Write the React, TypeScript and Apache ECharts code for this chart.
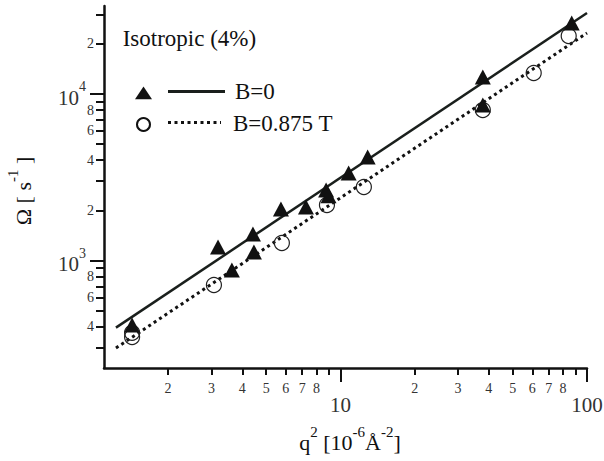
import React, { useEffect, useRef } from 'react';
import * as echarts from 'echarts';

// ---- data ----
const triX = [1.43, 3.19, 3.63, 4.42, 4.46, 5.74, 7.25, 8.75, 8.95, 10.8, 12.9, 37.8, 37.8, 86.7];
const triY = [410, 1205, 877, 1443, 1125, 2039, 2096, 2650, 2450, 3354, 4183, 12650, 8590, 26700];

const circX = [1.43, 1.43, 3.07, 5.79, 8.82, 12.45, 37.8, 60.8, 84.3];
const circY = [368, 347, 712, 1274, 2155, 2763, 8010, 13370, 22300];

const fitX = [1.23, 100];
const fitSolidY = [395, 30660];
const fitDottedY = [298, 23250];

const xRange = [1.1, 100];
const yRange = [226, 33770];

const xMinorTicks = [2, 3, 4, 5, 6, 7, 8, 9, 20, 30, 40, 50, 60, 70, 80, 90];
const xMinorLabels = [2, 3, 4, 5, 6, 7, 8, 20, 30, 40, 50, 60, 70, 80];
const xMajorTicks = [10, 100];
const yMinorTicks = [300, 400, 500, 600, 700, 800, 900, 2000, 3000, 4000, 5000, 6000, 7000, 8000, 9000, 20000, 30000];
const yMinorLabels = [400, 600, 800, 2000, 4000, 6000, 8000, 20000];
const yMajorTicks = [1000, 10000];

const FONT = 'Liberation Serif, serif';
const INK = '#111';
const LABEL = '#333';

const lg = (v: number) => Math.log10(v);
const pairs = (xs: number[], ys: number[]) => xs.map((x, i) => [lg(x), lg(ys[i])]);
const leadDigit = (v: number) => String(Math.round(Math.pow(10, v))).charAt(0);

export default function App() {
  const ref = useRef<HTMLDivElement>(null);
  useEffect(() => {
    document.body.style.margin = '0';
    const chart = echarts.init(ref.current!, null, { renderer: 'svg' });
    const xMin = lg(xRange[0]);
    const xMax = lg(xRange[1]);
    const yMin = lg(yRange[0]);
    const yMax = lg(yRange[1]);
    const baseAxis = {
      type: 'value',
      splitLine: { show: false },
    };
    const supRich = (main: number, sup: number, lh: number, color: string) => ({
      n: { fontSize: main, fontFamily: FONT, color, fill: color, lineHeight: lh, verticalAlign: 'bottom' },
      s: { fontSize: sup, fontFamily: FONT, color, fill: color, lineHeight: sup, verticalAlign: 'top' },
    });
    const option: any = {
      animation: false,
      backgroundColor: '#fff',
      grid: { left: 104, right: 17, top: 6, bottom: 93, outerBoundsMode: 'none' },
      xAxis: [
        {
          ...baseAxis,
          min: xMin,
          max: xMax,
          position: 'bottom',
          axisLine: { show: true, onZero: false, lineStyle: { color: INK, width: 2.5 } },
          axisTick: { show: true, customValues: xMinorTicks.map(lg), length: 7, lineStyle: { color: INK, width: 2 } },
          axisLabel: {
            customValues: xMinorLabels.map(lg),
            formatter: (v: number) => leadDigit(v),
            fontSize: 14,
            fontFamily: FONT,
            color: LABEL,
            margin: 13,
          },
        },
        {
          ...baseAxis,
          min: xMin,
          max: xMax,
          position: 'bottom',
          axisLine: { show: false, onZero: false },
          axisTick: { show: true, customValues: xMajorTicks.map(lg), length: 14, lineStyle: { color: INK, width: 2 } },
          axisLabel: {
            customValues: xMajorTicks.map(lg),
            formatter: (v: number) => String(Math.round(Math.pow(10, v))),
            fontSize: 21,
            fontFamily: FONT,
            color: LABEL,
            margin: 26,
          },
        },
      ],
      yAxis: [
        {
          ...baseAxis,
          min: yMin,
          max: yMax,
          position: 'left',
          axisLine: { show: true, onZero: false, lineStyle: { color: INK, width: 2.5 } },
          axisTick: { show: true, customValues: yMinorTicks.map(lg), length: 8, lineStyle: { color: INK, width: 2 } },
          axisLabel: {
            customValues: yMinorLabels.map(lg),
            formatter: (v: number) => leadDigit(v),
            fontSize: 14,
            fontFamily: FONT,
            color: LABEL,
            margin: 10,
          },
        },
        {
          ...baseAxis,
          min: yMin,
          max: yMax,
          position: 'left',
          axisLine: { show: false, onZero: false },
          axisTick: { show: true, customValues: yMajorTicks.map(lg), length: 14, lineStyle: { color: INK, width: 2 } },
          axisLabel: {
            customValues: yMajorTicks.map(lg),
            formatter: (v: number) => '{n|10}{s|' + Math.round(v) + '}',
            margin: 18,
            rich: supRich(21, 14, 28.5, LABEL),
          },
        },
      ],
      series: [
        {
          type: 'line',
          data: pairs(fitX, fitSolidY),
          symbol: 'none',
          lineStyle: { color: '#1a1f1c', width: 2.5 },
          z: 2,
        },
        {
          type: 'line',
          data: pairs(fitX, fitDottedY),
          symbol: 'none',
          lineStyle: { color: INK, width: 3, type: [3, 3.5] },
          z: 2,
        },
        {
          type: 'scatter',
          data: pairs(circX, circY),
          symbol: 'circle',
          symbolSize: 15,
          itemStyle: { color: 'transparent', borderColor: '#222', borderWidth: 1.2, opacity: 1 },
          z: 3,
        },
        {
          type: 'scatter',
          data: pairs(triX, triY),
          symbol: 'triangle',
          symbolSize: [16, 15],
          itemStyle: { color: INK, opacity: 1 },
          z: 4,
        },
      ],
      graphic: [
        {
          type: 'text',
          x: 122.7,
          y: 38.4,
          style: {
            text: 'Isotropic (4%)',
            font: '23px Liberation Serif, serif',
            fill: INK,
            align: 'left',
            verticalAlign: 'middle',
          },
        },
        {
          type: 'polygon',
          shape: { points: [[135, 99.3], [143.5, 86.5], [152, 99.3]] },
          style: { fill: INK },
        },
        {
          type: 'line',
          shape: { x1: 168, y1: 91.5, x2: 225, y2: 91.5 },
          style: { stroke: '#1a1f1c', lineWidth: 3 },
        },
        {
          type: 'text',
          x: 235,
          y: 91.7,
          style: { text: 'B=0', font: '23px Liberation Serif, serif', fill: INK, align: 'left', verticalAlign: 'middle' },
        },
        {
          type: 'circle',
          shape: { cx: 143.5, cy: 124.5, r: 6.5 },
          style: { fill: 'none', stroke: INK, lineWidth: 2 },
        },
        {
          type: 'line',
          shape: { x1: 168, y1: 122.5, x2: 221, y2: 122.5 },
          style: { stroke: INK, lineWidth: 3, lineDash: [3, 3.5] },
        },
        {
          type: 'text',
          x: 233,
          y: 123.8,
          style: { text: 'B=0.875 T', font: '23px Liberation Serif, serif', fill: INK, align: 'left', verticalAlign: 'middle' },
        },
        {
          type: 'text',
          x: 20,
          y: 191,
          rotation: Math.PI / 2,
          style: {
            text: '{n|Ω [ s}{s|-1}{n| ]}',
            fill: INK,
            align: 'center',
            verticalAlign: 'middle',
            rich: supRich(22, 15, 29.5, INK),
          },
        },
        {
          type: 'text',
          x: 350,
          y: 439,
          style: {
            text: '{n|q}{s|2}{n| [10}{s|-6}{n|Å}{s|-2}{n|]}',
            fill: INK,
            align: 'center',
            verticalAlign: 'middle',
            rich: supRich(22, 15, 29.5, INK),
          },
        },
      ],
    };
    chart.setOption(option);
    return () => chart.dispose();
  }, []);
  return <div ref={ref} style={{ width: 604, height: 461 }} />;
}
